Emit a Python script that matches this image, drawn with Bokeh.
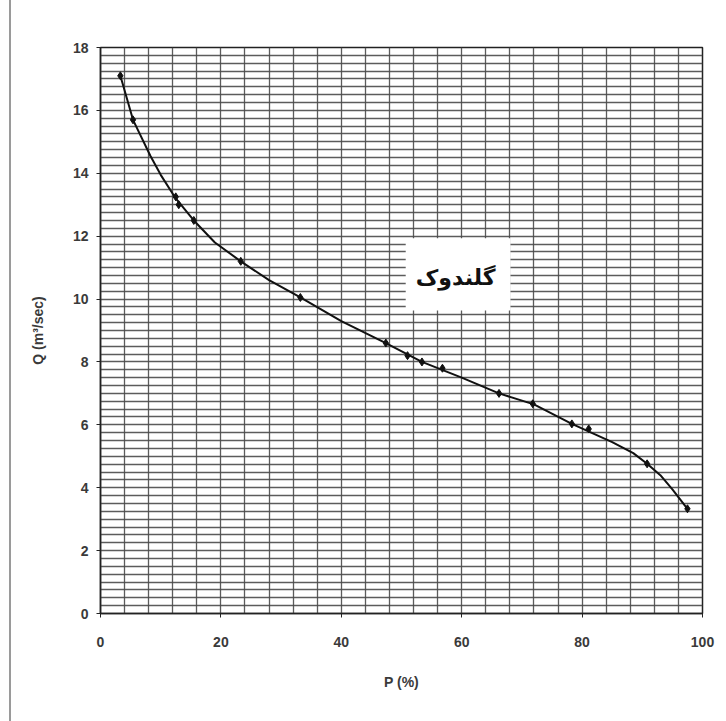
from bokeh.plotting import figure
from bokeh.models import Range1d, SingleIntervalTicker, BoxAnnotation, Label
from bokeh.embed import file_html
from bokeh.resources import INLINE

# Measured data points (markers)
p_pct = [3.3, 5.4, 12.5, 13.0, 15.5, 23.3, 33.2, 47.4, 51.0, 53.4, 56.8, 66.2, 71.8, 78.3, 81.1, 90.8, 97.5]
q_flow = [17.1, 15.7, 13.25, 13.0, 12.5, 11.2, 10.05, 8.6, 8.2, 8.0, 7.8, 7.0, 6.67, 6.03, 5.87, 4.76, 3.33]

# Fitted curve
curve_p = [3.3, 5.4, 8.3, 10.0, 12.5, 15.5, 19.0, 23.3, 28.0, 33.2, 40.0, 47.4, 53.4, 60.0, 66.2, 72.0, 78.3, 85.0, 88.5, 90.8, 93.0, 95.0, 97.5]
curve_q = [17.1, 15.7, 14.55, 13.95, 13.2, 12.5, 11.8, 11.2, 10.6, 10.05, 9.3, 8.6, 8.0, 7.5, 7.0, 6.65, 6.03, 5.45, 5.1, 4.76, 4.4, 3.95, 3.33]

station = "گلندوک"
x_label = "P (%)"
y_label = "Q (m³/sec)"

p = figure(width=715, height=721, output_backend="svg", toolbar_location=None,
           x_range=Range1d(0, 100), y_range=Range1d(0, 18),
           min_border_left=89, min_border_right=24, min_border_top=47, min_border_bottom=108,
           background_fill_color="white", border_fill_color="white",
           styles={"margin-left": "9px", "border-left": "2px solid #9a9a9a"})

p.outline_line_color = "#222222"
p.outline_line_width = 1.5

# grids
p.xgrid.ticker = SingleIntervalTicker(interval=4)
p.ygrid.ticker = SingleIntervalTicker(interval=0.25)
for g in (p.xgrid, p.ygrid):
    g.grid_line_color = "#4a4a4a"
    g.grid_line_width = 1.3
    g.grid_line_alpha = 0.9

# axes
p.xaxis.ticker = SingleIntervalTicker(interval=20)
p.yaxis.ticker = SingleIntervalTicker(interval=2)
for ax in (p.xaxis, p.yaxis):
    ax.axis_line_color = "#222222"
    ax.axis_line_width = 1.5
    ax.major_tick_line_color = "#222222"
    ax.major_tick_out = 4
    ax.major_tick_in = 0
    ax.minor_tick_line_color = None
    ax.major_label_text_font = "Liberation Sans"
    ax.major_label_text_font_size = "14px"
    ax.major_label_text_font_style = "bold"
    ax.major_label_text_color = "#3a3a3a"
    ax.axis_label_text_font = "Liberation Sans"
    ax.axis_label_text_font_size = "14px"
    ax.axis_label_text_font_style = "bold"
    ax.axis_label_text_color = "#3a3a3a"

p.xaxis.axis_label = x_label
p.yaxis.axis_label = y_label
p.xaxis.major_label_standoff = 19
p.xaxis.axis_label_standoff = 24
p.yaxis.major_label_standoff = 8
p.yaxis.axis_label_standoff = 24

# curve and markers
p.line(curve_p, curve_q, line_color="#111111", line_width=2)
p.scatter(p_pct, q_flow, marker="diamond", size=8, fill_color="#111111", line_color="#111111")

# station label box
box = BoxAnnotation(left=50.7, right=68.1, bottom=9.64, top=11.93,
                    fill_color="white", fill_alpha=1.0, line_color=None)
p.add_layout(box)
lab = Label(x=59.0, y=10.7, text=station, text_align="center", text_baseline="middle",
            text_font="DejaVu Sans", text_font_size="22px", text_font_style="bold",
            text_color="#111111")
p.add_layout(lab)

open("out.html", "w").write(file_html(p, INLINE))
